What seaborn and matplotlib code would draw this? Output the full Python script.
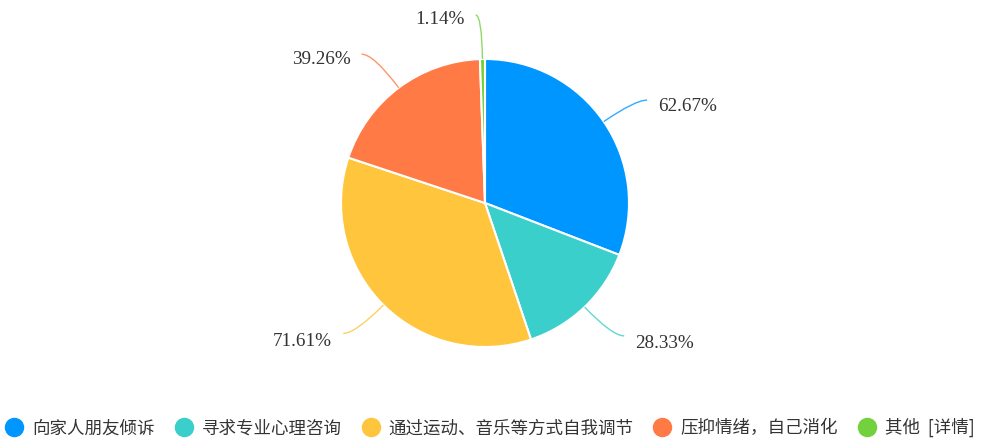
import numpy as np
import matplotlib
matplotlib.use("Agg")
import matplotlib.pyplot as plt
from matplotlib.lines import Line2D
from matplotlib.path import Path
from matplotlib.patches import PathPatch
import seaborn as sns

# data (multi-choice percentages)
categories = ['向家人朋友倾诉', '寻求专业心理咨询', '通过运动、音乐等方式自我调节', '压抑情绪，自己消化', '其他']
values = [62.67, 28.33, 71.61, 39.26, 1.14]
legend_labels = ['向家人朋友倾诉', '寻求专业心理咨询', '通过运动、音乐等方式自我调节', '压抑情绪，自己消化', '其他  [详情]']
colors = ['#0096FF', '#3ACFCB', '#FFC53D', '#FF7A45', '#73D13D']

sns.set_theme(style="white")
plt.rcParams['font.family'] = ['Noto Sans CJK SC', 'DejaVu Sans']

fig = plt.figure(figsize=(9.82, 4.48), dpi=100)
ax = fig.add_axes([0, 0, 1, 1])

cx, cy, r = 485, 448 - 203, 144
wedges, _ = ax.pie(values, colors=colors, startangle=90, counterclock=False,
                   center=(cx, cy), radius=r, frame=True,
                   wedgeprops=dict(edgecolor='white', linewidth=1.5))
ax.set_xlim(0, 982)
ax.set_ylim(0, 448)
ax.set_aspect('equal')
ax.axis('off')

# radial / horizontal leader lengths per slice (pixels)
len1 = [38, 40, 40, 42, 44]
len2 = [12, 12, 12, 12, 6]
# extra downward shift of the label below the leader end
drop = [6, 8, 8, 5, 4]
for w, v, c, l1, l2, d in zip(wedges, values, colors, len1, len2, drop):
    ang = np.deg2rad((w.theta1 + w.theta2) / 2)
    p0 = (cx + r * np.cos(ang), cy + r * np.sin(ang))
    p1 = (cx + (r + l1) * np.cos(ang), cy + (r + l1) * np.sin(ang))
    side = 1 if np.cos(ang) >= 0 else -1
    p2 = (p1[0] + side * l2, p1[1])
    path = Path([p0, p1, p2], [Path.MOVETO, Path.CURVE3, Path.CURVE3])
    ax.add_patch(PathPatch(path, fill=False, edgecolor=c, linewidth=1.0, alpha=0.8))
    ax.text(p2[0] + side * 11, p2[1] - d, f"{v:.2f}%",
            ha='left' if side > 0 else 'right', va='center',
            fontsize=13.8, color='#333333', family=['Liberation Serif', 'DejaVu Serif'])

handles = [Line2D([0], [0], marker='o', linestyle='none', markersize=13,
                  markerfacecolor=c, markeredgecolor=c) for c in colors]
fig.legend(handles, legend_labels, loc='center', bbox_to_anchor=(0.499, 0.045),
           ncol=5, frameon=False, fontsize=12.6, handlelength=1.0, handletextpad=0.53,
           columnspacing=1.15, labelcolor='#333333')

fig.savefig('out.png', dpi=100)
